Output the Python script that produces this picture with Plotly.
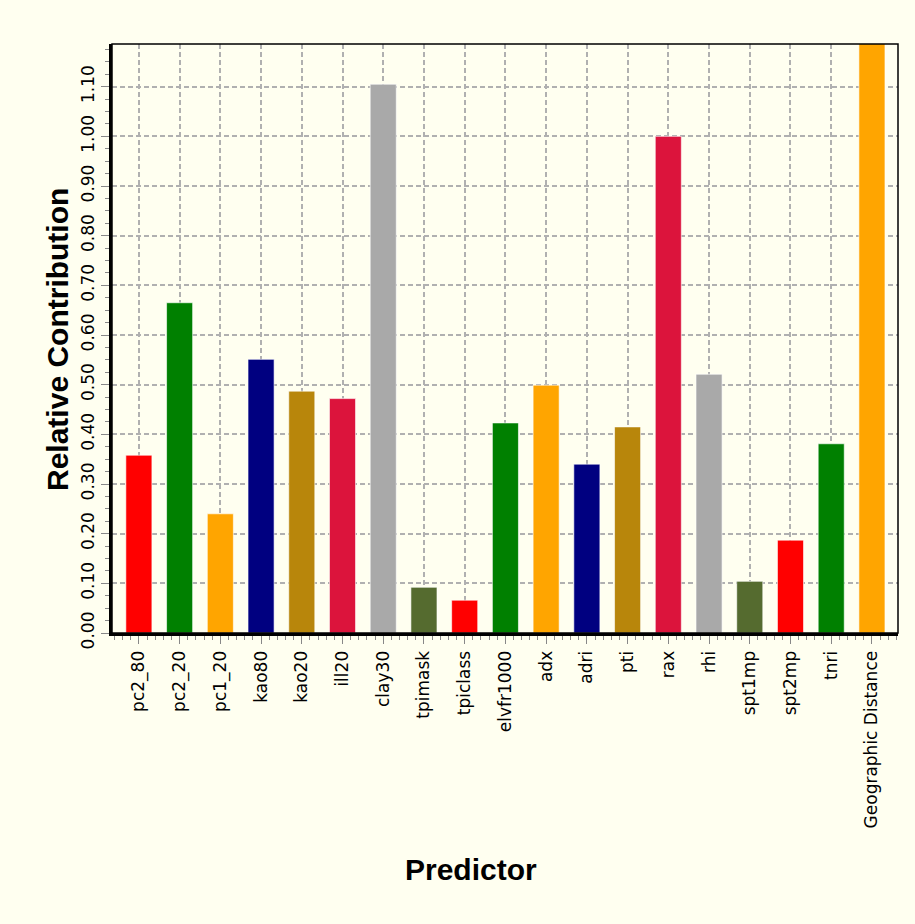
import plotly.graph_objects as go

categories = ["pc2_80", "pc2_20", "pc1_20", "kao80", "kao20", "ill20", "clay30",
              "tpimask", "tpiclass", "elvfr1000", "adx", "adri", "pti", "rax",
              "rhi", "spt1mp", "spt2mp", "tnri", "Geographic Distance"]
values = [0.358, 0.665, 0.240, 0.551, 0.487, 0.472, 1.105,
          0.092, 0.066, 0.423, 0.499, 0.340, 0.415, 1.000,
          0.521, 0.104, 0.187, 0.381, 1.25]
colors = ["#FF0000", "#008000", "#FFA500", "#000080", "#B8860B", "#DC143C", "#A9A9A9",
          "#556B2F", "#FF0000", "#008000", "#FFA500", "#000080", "#B8860B", "#DC143C",
          "#A9A9A9", "#556B2F", "#FF0000", "#008000", "#FFA500"]
y_ticks = [0.0, 0.1, 0.2, 0.3, 0.4, 0.5, 0.6, 0.7, 0.8, 0.9, 1.0, 1.1]

x_pos = list(range(len(categories)))
bg = "#FFFFF0"
grid_dash = "5px,3px"

fig = go.Figure()
fig.add_trace(go.Bar(
    x=x_pos, y=values, width=0.64,
    marker=dict(color=colors, line=dict(color="rgba(255,255,255,0.6)", width=1)),
    showlegend=False,
))

fig.update_layout(
    width=915, height=924,
    margin=dict(l=112, r=17, t=44, b=291),
    paper_bgcolor=bg, plot_bgcolor=bg,
    font=dict(family="DejaVu Sans", color="#000000"),
)

fig.update_xaxes(
    range=[-0.66, len(categories) - 0.36],
    tickmode="array", tickvals=x_pos, ticktext=categories,
    tickangle=-90, tickfont=dict(size=17, family="DejaVu Sans", color="#000000"),
    ticks="outside", ticklen=8, tickcolor="#888888", tickwidth=1,
    showgrid=True, gridcolor="#B0B0B0", griddash=grid_dash, gridwidth=1.5,
    showline=True, linecolor="#000000", linewidth=3,
    zeroline=False,
    minor=dict(dtick=0.2, tick0=0, ticks="outside", ticklen=4, tickcolor="#888888", showgrid=False),
)
fig.update_yaxes(
    range=[0, 1.186],
    tickmode="array", tickvals=y_ticks, ticktext=[f"{v:.2f}" for v in y_ticks],
    tickangle=-90, tickfont=dict(size=17, family="DejaVu Sans", color="#000000"),
    ticks="outside", ticklen=8, tickcolor="#888888", tickwidth=1,
    showgrid=True, gridcolor="#B0B0B0", griddash=grid_dash, gridwidth=1.5,
    showline=True, linecolor="#000000", linewidth=3,
    zeroline=False,
    minor=dict(dtick=0.025, tick0=0, ticks="outside", ticklen=4, tickcolor="#888888", showgrid=False),
)

fig.add_shape(type="rect", xref="paper", yref="paper", x0=0, y0=0, x1=1, y1=1,
              line=dict(color="#000000", width=1.5), layer="above")

fig.add_annotation(text="<b>Relative Contribution</b>", xref="paper", yref="paper",
                   x=(57 - 112) / 786, y=(633 - 340) / 589, textangle=-90,
                   showarrow=False, xanchor="center", yanchor="middle",
                   font=dict(family="Liberation Sans", size=30, color="#000000"))
fig.add_annotation(text="<b>Predictor</b>", xref="paper", yref="paper",
                   x=(471 - 112) / 786, y=(633 - 869) / 589,
                   showarrow=False, xanchor="center", yanchor="middle",
                   font=dict(family="Liberation Sans", size=30, color="#000000"))

fig.write_html("out.html", config={"displayModeBar": False},
               post_script="document.body.style.margin='0';document.body.style.background='#FFFFF0';")
